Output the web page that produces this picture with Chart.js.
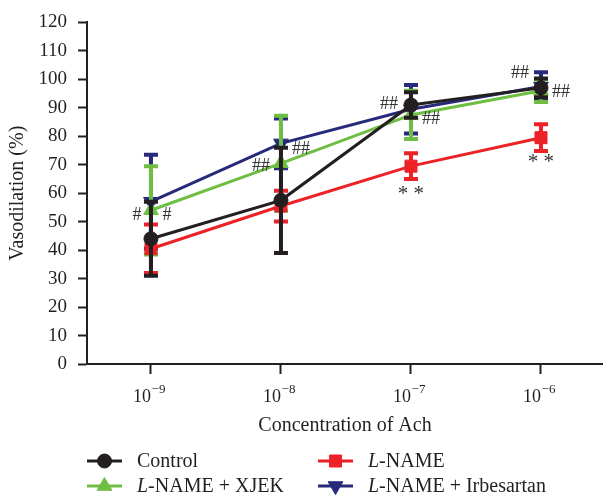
<!DOCTYPE html>
<html>
<head>
<meta charset="utf-8">
<script src="https://cdn.jsdelivr.net/npm/chart.js@4/dist/chart.umd.min.js"></script>
<style>
  html, body { margin: 0; padding: 0; background: #fff; }
  #wrap { width: 603px; height: 499px; }
</style>
</head>
<body>
<div id="wrap"><canvas id="chart" width="603" height="499"></canvas></div>
<script>
// ── Data ─────────────────────────────────────────────────────
const exponents   = [-9, -8, -7, -6];          // Ach concentration, 10^x
const yTicks      = [0, 10, 20, 30, 40, 50, 60, 70, 80, 90, 100, 110, 120];

const control     = [44, 57.5, 91, 97];
const controlErr  = [13, 18.5, 4.5, 3.3];
const lname       = [40.5, 55.5, 69.5, 79.5];
const lnameErr    = [8.5, 5.4, 4.5, 4.7];
const xjek        = [54, 70.5, 87.5, 96];
const xjekErr     = [15.5, 16.7, 8.5, 4];
const irbe        = [57, 77.5, 89.5, 97.5];
const irbeErr     = [16.5, 8.7, 8.5, 5];

// significance marks: tick index, y value, horizontal nudge, text
const marks = [
  { i: 0, v: 52.2, dx: -14, t: '#' },
  { i: 0, v: 52.2, dx: 16,  t: '#' },
  { i: 1, v: 69.6, dx: -20, t: '##' },
  { i: 1, v: 75.6, dx: 20,  t: '##' },
  { i: 2, v: 91.2, dx: -22, t: '##' },
  { i: 2, v: 86,   dx: 20,  t: '##' },
  { i: 2, v: 59.5, dx: 0,   t: '* *' },
  { i: 3, v: 102.3, dx: -21, t: '##' },
  { i: 3, v: 95.5, dx: 20,  t: '##' },
  { i: 3, v: 70.7, dx: 0,   t: '* *' },
];

const BLACK = '#231f20';
const RED   = '#ec2227';
const GREEN = '#6fbe44';
const NAVY  = '#272a7b';
const SERIF = "'Liberation Serif', 'DejaVu Serif', serif";

const pts = arr => arr.map((v, i) => ({ x: exponents[i], y: v }));

function series(label, values, errs, color, style, radius, rotation, order) {
  return {
    label, data: pts(values), errors: errs,
    borderColor: color, backgroundColor: color,
    borderWidth: 3, tension: 0,
    pointStyle: style, pointRadius: radius, pointRotation: rotation,
    pointBorderWidth: 1, pointBorderColor: color, pointBackgroundColor: color,
    order,
  };
}

const datasets = [
  series('Control', control, controlErr, BLACK, 'circle', 7, 0, 0),
  series('L-NAME', lname, lnameErr, RED, 'rect', 8.5, 0, 1),
  series('L-NAME + XJEK', xjek, xjekErr, GREEN, 'triangle', 8.5, 0, 2),
  series('L-NAME + Irbesartan', irbe, irbeErr, NAVY, 'triangle', 8.5, 180, 3),
];

// ── Error bars, drawn just under each series ─────────────────
const errorBars = {
  id: 'errorBars',
  beforeDatasetDraw(chart, args) {
    const ds = chart.data.datasets[args.index];
    if (!ds.errors) return;
    const { ctx, scales: { x, y } } = chart;
    ctx.save();
    ctx.strokeStyle = ds.borderColor;
    ctx.lineWidth = 4;
    ds.data.forEach((p, i) => {
      const px  = x.getPixelForValue(p.x);
      const top = y.getPixelForValue(p.y + ds.errors[i]);
      const bot = y.getPixelForValue(p.y - ds.errors[i]);
      ctx.beginPath();
      ctx.moveTo(px, top); ctx.lineTo(px, bot);
      ctx.moveTo(px - 7, top); ctx.lineTo(px + 7, top);
      ctx.moveTo(px - 7, bot); ctx.lineTo(px + 7, bot);
      ctx.stroke();
    });
    ctx.restore();
  }
};

// ── Tick labels 10^x, significance marks, legend ─────────────
function drawMarker(ctx, ds, x, y) {
  ctx.fillStyle = ds.pointBackgroundColor;
  ctx.strokeStyle = ds.pointBorderColor;
  ctx.lineWidth = 1;
  Chart.helpers.drawPoint(ctx, {
    pointStyle: ds.pointStyle, radius: ds.pointRadius,
    rotation: ds.pointRotation, borderWidth: 1
  }, x, y);
}

const legendItems = [
  { ds: 0, col: 0, row: 0, parts: [['Control', false]] },
  { ds: 1, col: 1, row: 0, parts: [['L', true], ['-NAME', false]] },
  { ds: 2, col: 0, row: 1, parts: [['L', true], ['-NAME + XJEK', false]] },
  { ds: 3, col: 1, row: 1, parts: [['L', true], ['-NAME + Irbesartan', false]] },
];

const extras = {
  id: 'extras',
  afterDraw(chart) {
    const { ctx, scales: { x, y } } = chart;
    ctx.save();

    // x tick labels with superscript exponent
    ctx.fillStyle = BLACK;
    ctx.textBaseline = 'alphabetic';
    x.ticks.forEach(t => {
      const px = x.getPixelForValue(t.value);
      const base = '10', sup = '\u2212' + Math.abs(t.value);
      ctx.font = '18px ' + SERIF;
      const wb = ctx.measureText(base).width;
      ctx.font = '13px ' + SERIF;
      const ws = ctx.measureText(sup).width;
      const x0 = px - 2 - (wb + ws) / 2;
      ctx.font = '18px ' + SERIF;
      ctx.textAlign = 'left';
      ctx.fillText(base, x0, 402);
      ctx.font = '13px ' + SERIF;
      ctx.fillText(sup, x0 + wb + 0.5, 393);
    });

    // significance marks
    ctx.fillStyle = '#333';
    ctx.textAlign = 'center';
    ctx.textBaseline = 'middle';
    marks.forEach(m => {
      ctx.font = (m.t.includes('*') ? '21px ' : '18px ') + SERIF;
      ctx.fillText(m.t, x.getPixelForValue(exponents[m.i]) + m.dx, y.getPixelForValue(m.v));
    });

    // legend, two columns
    const colX = [87, 318], rowY = [461, 486];
    legendItems.forEach(it => {
      const ds = chart.data.datasets[it.ds];
      const lx = colX[it.col], ly = rowY[it.row];
      ctx.strokeStyle = ds.borderColor;
      ctx.lineWidth = 3;
      ctx.beginPath();
      ctx.moveTo(lx, ly); ctx.lineTo(lx + 35, ly);
      ctx.stroke();
      drawMarker(ctx, ds, lx + 17.5, ly);
      let tx = lx + 50;
      ctx.fillStyle = BLACK;
      ctx.textAlign = 'left';
      ctx.textBaseline = 'middle';
      it.parts.forEach(([txt, ital]) => {
        ctx.font = (ital ? 'italic ' : '') + '20px ' + SERIF;
        ctx.fillText(txt, tx, ly + 1);
        tx += ctx.measureText(txt).width;
      });
    });
    ctx.restore();
  }
};

// ── Chart ────────────────────────────────────────────────────
new Chart(document.getElementById('chart'), {
  type: 'line',
  data: { datasets },
  plugins: [errorBars, extras],
  options: {
    responsive: false,
    animation: false,
    devicePixelRatio: 1,
    layout: { autoPadding: false, padding: { top: 19, right: 0, bottom: 55, left: 0 } },
    plugins: { legend: { display: false }, tooltip: { enabled: false } },
    scales: {
      x: {
        type: 'linear',
        min: -9.492, max: -5.523,
        afterBuildTicks: s => { s.ticks = exponents.map(v => ({ value: v })); },
        afterFit: s => { s.height = 80; },
        grid: { display: true, drawOnChartArea: false, drawTicks: true,
                tickLength: 10, tickWidth: 2, tickColor: BLACK },
        border: { color: BLACK, width: 2 },
        ticks: { display: false },
        title: { display: true, text: 'Concentration of Ach', color: BLACK,
                 font: { family: SERIF, size: 20 }, padding: { top: 0, bottom: 6 } }
      },
      y: {
        min: 0, max: 120,
        afterBuildTicks: s => { s.ticks = yTicks.map(v => ({ value: v })); },
        afterFit: s => { s.width = 87; },
        grid: { display: true, drawOnChartArea: false, drawTicks: true,
                tickLength: 9, tickWidth: 2, tickColor: BLACK },
        border: { color: BLACK, width: 2 },
        ticks: { color: BLACK, padding: 11, font: { family: SERIF, size: 19 } },
        title: { display: true, text: 'Vasodilation (%)', color: BLACK,
                 font: { family: SERIF, size: 20 }, padding: { top: 6, bottom: 0 } }
      }
    }
  }
});
</script>
</body>
</html>
